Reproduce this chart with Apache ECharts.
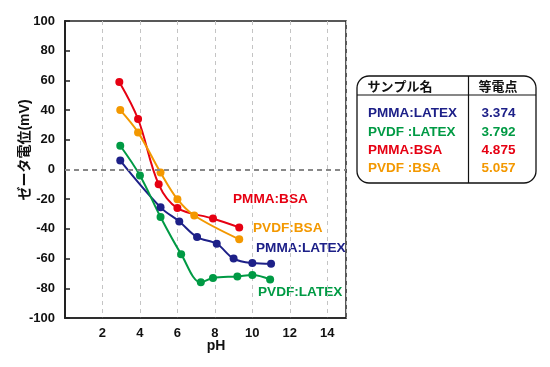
<!DOCTYPE html>
<html><head><meta charset="utf-8">
<script src="https://cdn.jsdelivr.net/npm/echarts@6/dist/echarts.min.js"></script>
<style>html,body{margin:0;padding:0;background:#fff}#c{width:550px;height:367px}</style>
</head><body><div id="c"></div>
<script>
// ---- data ----
const pmmaBsa   = [[2.9,59],[3.9,34],[5.0,-10],[6.0,-26],[7.9,-33],[9.3,-39]];
const pvdfBsa   = [[2.95,40],[3.9,25],[5.1,-2],[6.0,-20],[6.9,-31],[9.3,-47]];
const pmmaLatex = [[2.95,6],[5.1,-25.5],[6.1,-35],[7.05,-45.5],[8.1,-50],[9.0,-60],[10.0,-63],[11.0,-63.5]];
const pvdfLatex = [[2.95,16],[4.0,-4],[5.1,-32],[6.2,-57],[7.25,-76],[7.9,-73],[9.2,-72],[10.0,-71],[10.95,-74]];
const seriesNames = ['PMMA:BSA','PVDF:BSA','PMMA:LATEX','PVDF:LATEX'];
const tableNames  = ['PMMA:LATEX','PVDF :LATEX','PMMA:BSA','PVDF :BSA'];
const tableValues = ['3.374','3.792','4.875','5.057'];
const tableHeader = ['サンプル名','等電点'];
const yTitle = 'ゼータ電位(mV)';
const xTitle = 'pH';

const C = {red:'#e60012', orange:'#f39800', green:'#009a44', navy:'#1d2088'};
const FONT = '"Liberation Sans", Arial, "Noto Sans CJK JP", sans-serif';
const tableColors = [C.navy, C.green, C.red, C.orange];

function mk(name, data, color){
  return {name, type:'line', data, smooth:0.35, symbol:'circle', symbolSize:8,
    itemStyle:{color}, lineStyle:{color, width:2}, z:3};
}

const chart = echarts.init(document.getElementById('c'));
const graphic = [];
// line labels
const lbl = [[seriesNames[0],C.red,233,199.5],[seriesNames[1],C.orange,253,228.5],[seriesNames[2],C.navy,256,248.5],[seriesNames[3],C.green,258,292]];
lbl.forEach(l=>graphic.push({type:'text',x:l[2],y:l[3],style:{text:l[0],fill:l[1],font:'bold 13.6px '+FONT,verticalAlign:'middle'}}));
// axis titles
graphic.push({type:'text',x:25,y:150,rotation:Math.PI/2,style:{text:yTitle,fill:'#111',font:'bold 14px '+FONT,align:'center',verticalAlign:'middle'}});
graphic.push({type:'text',x:216,y:346,style:{text:xTitle,fill:'#111',font:'bold 14px '+FONT,align:'center',verticalAlign:'middle'}});
// table
graphic.push({type:'rect',shape:{x:357,y:76,width:179,height:107,r:12},style:{fill:'#fff',stroke:'#111',lineWidth:1.3}});
graphic.push({type:'line',shape:{x1:357,y1:95,x2:536,y2:95},style:{stroke:'#111',lineWidth:1.2}});
graphic.push({type:'line',shape:{x1:468.5,y1:76,x2:468.5,y2:183},style:{stroke:'#111',lineWidth:1.2}});
graphic.push({type:'text',x:400,y:87,style:{text:tableHeader[0],fill:'#111',font:'bold 13px '+FONT,align:'center',verticalAlign:'middle'}});
graphic.push({type:'text',x:498,y:87,style:{text:tableHeader[1],fill:'#111',font:'bold 13px '+FONT,align:'center',verticalAlign:'middle'}});
const rowY=[113.5,131.8,150,168.3];
tableNames.forEach((n,i)=>{
  graphic.push({type:'text',x:368,y:rowY[i],style:{text:n,fill:tableColors[i],font:'bold 13.5px '+FONT,verticalAlign:'middle'}});
  graphic.push({type:'text',x:498.5,y:rowY[i],style:{text:tableValues[i],fill:tableColors[i],font:'bold 13.5px '+FONT,align:'center',verticalAlign:'middle'}});
});

chart.setOption({
  animation:false,
  grid:{left:65,right:204,top:21,bottom:49,show:true,borderColor:'#222',borderWidth:1.5,backgroundColor:'transparent'},
  xAxis:{type:'value',min:0,max:15,interval:2,
    axisLine:{show:true,onZero:false,lineStyle:{color:'#222',width:1.5}},
    axisTick:{show:false},
    axisLabel:{color:'#111',fontWeight:'bold',fontSize:13,fontFamily:FONT,margin:9,
      formatter:v=>(v===0||v===15)?'':String(v)},
    splitLine:{show:true,lineStyle:{color:'#c4c4c4',type:[4,4],width:1}}},
  yAxis:{type:'value',min:-100,max:100,interval:20,
    axisLine:{show:true,onZero:false,lineStyle:{color:'#222',width:2}},
    axisTick:{show:true,inside:true,length:5,lineStyle:{color:'#222',width:1.5}},
    axisLabel:{color:'#111',fontWeight:'bold',fontSize:13,fontFamily:FONT,margin:10},
    splitLine:{show:false}},
  series:[
    mk(seriesNames[0],pmmaBsa,C.red),
    mk(seriesNames[1],pvdfBsa,C.orange),
    mk(seriesNames[2],pmmaLatex,C.navy),
    Object.assign(mk(seriesNames[3],pvdfLatex,C.green),{
      markLine:{silent:true,symbol:'none',label:{show:false},
        lineStyle:{color:'#888',type:[5,4],width:2},data:[{yAxis:0}]}})
  ],
  graphic
});
</script></body></html>
